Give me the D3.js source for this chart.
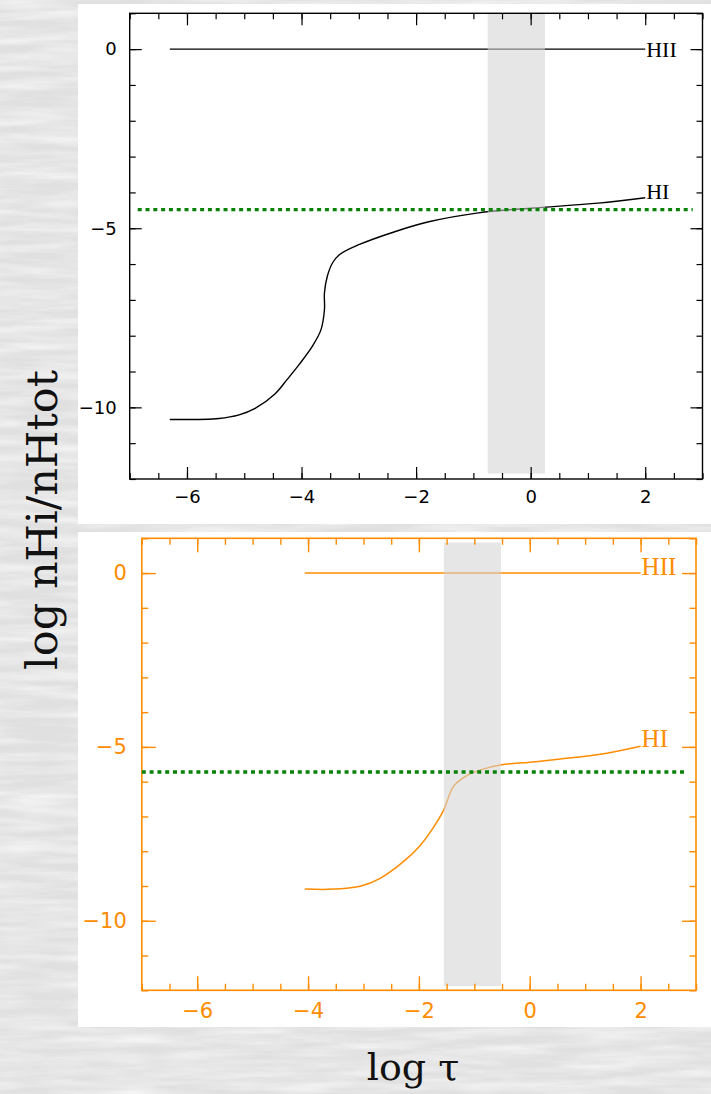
<!DOCTYPE html>
<html><head><meta charset="utf-8">
<script src="https://cdn.jsdelivr.net/npm/d3@7"></script>
<style>body{margin:0;padding:0;overflow:hidden;} svg{display:block;}</style>
</head><body>
<script>
// ---------- data ----------
const xMajorTicks = [-6, -4, -2, 0, 2];
const yMajorTicks = [0, -5, -10];
const xDomain = [-7, 3];
const yDomain = [-12, 1];

// top panel (black)
const hiiTopX = [-6.3, 2.0];
const hiiTopY = [0, 0];
const hiTopX = [-6.30, -5.44, -5.09, -4.81, -4.46, -4.25, -4.04, -3.81, -3.66, -3.60, -3.60, -3.55, -3.46, -3.34, -3.00, -2.36, -1.78, -0.91, 0.00, 1.18, 2.00];
const hiTopY = [-10.34, -10.31, -10.21, -10.03, -9.62, -9.22, -8.80, -8.29, -7.83, -7.27, -6.80, -6.34, -5.97, -5.74, -5.46, -5.09, -4.82, -4.57, -4.44, -4.30, -4.15];
const bandTop = [-0.75, 0.25];
const greenTopY = -4.48;
const greenTopX = [-6.86, 2.83];

// bottom panel (orange)
const hiiBotX = [-4.06, 2.0];
const hiiBotY = [0, 0];
const hiBotX = [-4.06, -3.52, -3.06, -2.70, -2.28, -1.98, -1.74, -1.56, -1.37, -1.13, -0.89, -0.53, 0.00, 0.55, 1.28, 2.00];
const hiBotY = [-9.09, -9.09, -9.01, -8.78, -8.30, -7.84, -7.32, -6.84, -6.12, -5.82, -5.66, -5.52, -5.44, -5.35, -5.21, -4.98];
const bandBot = [-1.55, -0.52];
const greenBotY = -5.72;
const greenBotX = [-7.0, 2.83];

const labelsTop = ["HII", "HI"];
const labelsBot = ["HII", "HI"];

// ---------- drawing ----------
const W = 711, H = 1094;
const svg = d3.select("body").append("svg").attr("width", W).attr("height", H);

const defs = svg.append("defs");
const f = defs.append("filter").attr("id", "marble").attr("x", 0).attr("y", 0).attr("width", "100%").attr("height", "100%");
f.append("feTurbulence").attr("type", "fractalNoise").attr("baseFrequency", "0.012 0.11").attr("numOctaves", 4).attr("seed", 11);
f.append("feColorMatrix").attr("type", "matrix")
  .attr("values", "0 0 0 0 1  0 0 0 0 1  0 0 0 0 1  1.1 0 0 0 -0.35");

svg.append("rect").attr("width", W).attr("height", H).attr("fill", "#e0e0e0");
svg.append("rect").attr("width", W).attr("height", H).attr("filter", "url(#marble)");

function panel(cfg) {
  const g = svg.append("g");
  g.append("rect").attr("x", cfg.white[0]).attr("y", cfg.white[1])
    .attr("width", cfg.white[2]).attr("height", cfg.white[3]).attr("fill", "#ffffff");

  const x = d3.scaleLinear().domain(xDomain).range([cfg.left, cfg.right]);
  const y = d3.scaleLinear().domain(yDomain).range([cfg.bottom, cfg.top]);
  const col = cfg.color;

  const line = d3.line().x(d => x(d[0])).y(d => y(d[1])).curve(d3.curveCatmullRom.alpha(0.5));

  // HII line
  g.append("path").datum(d3.zip(cfg.hiiX, cfg.hiiY))
    .attr("d", d3.line().x(d => x(d[0])).y(d => y(d[1])))
    .attr("fill", "none").attr("stroke", col).attr("stroke-width", cfg.lw);
  // HI curve
  g.append("path").datum(d3.zip(cfg.hiX, cfg.hiY))
    .attr("d", line).attr("fill", "none").attr("stroke", col).attr("stroke-width", cfg.lw)
    .attr("stroke-linejoin", "round");

  // shaded band (semi-transparent, over curves)
  g.append("rect").attr("x", x(cfg.band[0])).attr("width", x(cfg.band[1]) - x(cfg.band[0]))
    .attr("y", y(cfg.bandY[1])).attr("height", y(cfg.bandY[0]) - y(cfg.bandY[1]))
    .attr("fill", "rgb(210,210,210)").attr("fill-opacity", 0.56);

  // axes
  const mk = (gen, sel, ticks, size, labels, fs) => {
    const ax = gen.tickValues(ticks).tickSize(size).tickPadding(cfg.pad);
    if (!labels) ax.tickFormat("");
    const a = g.append("g").attr("transform", sel).call(ax);
    a.select(".domain").remove();
    a.selectAll("line").attr("stroke", col).attr("stroke-width", cfg.tw);
    a.selectAll("text").attr("fill", col).attr("font-family", "DejaVu Sans, sans-serif")
      .attr("font-size", fs);
    return a;
  };
  const xMinor = d3.range(xDomain[0], xDomain[1] + 0.001, 0.5);
  const yMinor = d3.range(yDomain[0], yDomain[1] + 0.001, 1);
  // bottom
  mk(d3.axisBottom(x), `translate(0,${cfg.bottom})`, xMinor, -cfg.minor, false);
  mk(d3.axisBottom(x), `translate(0,${cfg.bottom})`, xMajorTicks, -cfg.major, true, cfg.fs);
  // top
  mk(d3.axisTop(x), `translate(0,${cfg.top})`, xMinor, -cfg.minor, false);
  mk(d3.axisTop(x), `translate(0,${cfg.top})`, xMajorTicks, -cfg.major, false);
  // left
  mk(d3.axisLeft(y), `translate(${cfg.left},0)`, yMinor, -cfg.minor, false);
  mk(d3.axisLeft(y), `translate(${cfg.left},0)`, yMajorTicks, -cfg.major, true, cfg.fs)
    .selectAll("text").attr("x", -cfg.padY);
  // right
  mk(d3.axisRight(y), `translate(${cfg.right},0)`, yMinor, -cfg.minor, false);
  mk(d3.axisRight(y), `translate(${cfg.right},0)`, yMajorTicks, -cfg.major, false);

  // frame
  g.append("rect").attr("x", cfg.left).attr("y", cfg.top)
    .attr("width", cfg.right - cfg.left).attr("height", cfg.bottom - cfg.top)
    .attr("fill", "none").attr("stroke", col).attr("stroke-width", cfg.fw);

  // green dotted reference line
  g.append("line").attr("x1", x(cfg.greenX[0])).attr("x2", x(cfg.greenX[1]))
    .attr("y1", y(cfg.greenY)).attr("y2", y(cfg.greenY))
    .attr("stroke", "#0a820a").attr("stroke-width", 3.4).attr("stroke-dasharray", "4,3.8");

  // species labels
  const hiiEnd = [cfg.hiiX[cfg.hiiX.length - 1], cfg.hiiY[cfg.hiiY.length - 1]];
  const hiEnd = [cfg.hiX[cfg.hiX.length - 1], cfg.hiY[cfg.hiY.length - 1]];
  g.append("text").attr("x", x(hiiEnd[0]) + 1).attr("y", y(hiiEnd[1]) + cfg.hiiDy)
    .attr("fill", col).attr("font-family", "Liberation Serif, serif").attr("font-size", cfg.lfs)
    .text(cfg.labels[0]);
  g.append("text").attr("x", x(hiEnd[0]) + 1).attr("y", y(hiEnd[1]) + 1)
    .attr("fill", col).attr("font-family", "Liberation Serif, serif").attr("font-size", cfg.lfs)
    .text(cfg.labels[1]);
}

panel({
  white: [78, 4, 633, 520], left: 129.7, right: 702.5, top: 13.3, bottom: 479,
  color: "#000000", lw: 1.4, tw: 1.2, fw: 1.4, major: 12, minor: 6, pad: 11, padY: 13, fs: 18,
  hiiX: hiiTopX, hiiY: hiiTopY, hiX: hiTopX, hiY: hiTopY,
  band: bandTop, bandY: [-11.85, 1], greenX: greenTopX, greenY: greenTopY,
  labels: labelsTop, lfs: 22, hiiDy: 8
});

panel({
  white: [78, 532, 633, 495], left: 141.8, right: 696, top: 538.3, bottom: 990.3,
  color: "#ff8c00", lw: 1.5, tw: 1.4, fw: 1.6, major: 14, minor: 6.5, pad: 13, padY: 15, fs: 21,
  hiiX: hiiBotX, hiiY: hiiBotY, hiX: hiBotX, hiY: hiBotY,
  band: bandBot, bandY: [-11.88, 0.88], greenX: greenBotX, greenY: greenBotY,
  labels: labelsBot, lfs: 25, hiiDy: 2
});

// axis titles
svg.append("text").attr("transform", "translate(57,520) rotate(-90)")
  .attr("text-anchor", "middle").attr("font-family", "DejaVu Serif, serif").attr("font-size", 43)
  .attr("fill", "#111").text("log nHi/nHtot");
svg.append("text").attr("x", 413).attr("y", 1080)
  .attr("text-anchor", "middle").attr("font-family", "DejaVu Serif, serif").attr("font-size", 38)
  .attr("fill", "#111").text("log τ");
</script>
</body></html>
